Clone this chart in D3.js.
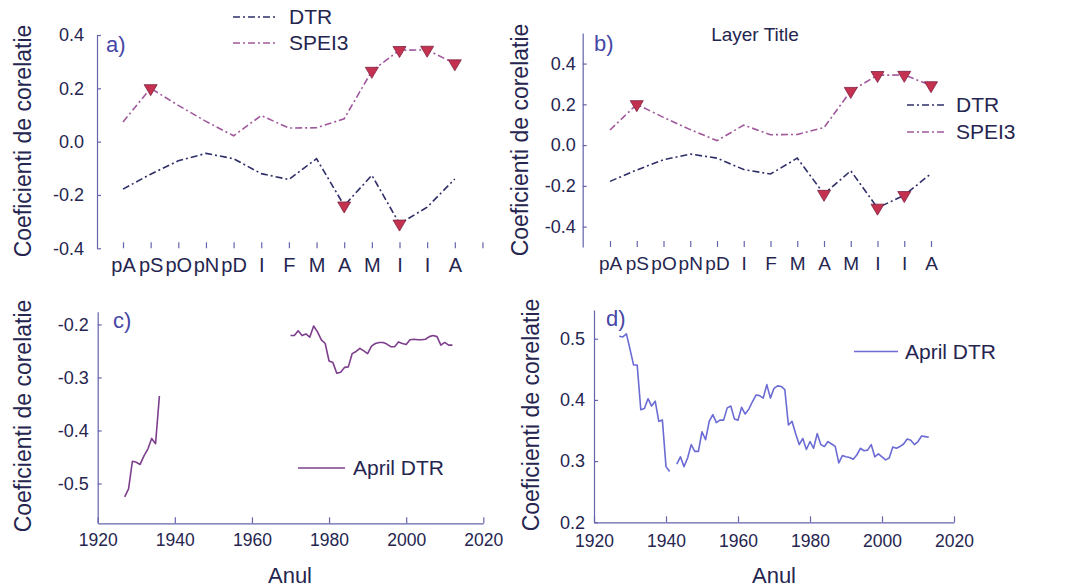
<!DOCTYPE html>
<html><head><meta charset="utf-8">
<script src="https://cdn.jsdelivr.net/npm/d3@7"></script>
<style>
body{margin:0;background:#fff}
svg{display:block}
text{font-family:"Liberation Sans",Arial,Helvetica,sans-serif}
</style>
</head><body>
<svg id="chart" width="1088" height="587"></svg>
<script>
// ---------- DATA ----------
const months = ["pA","pS","pO","pN","pD","I","F","M","A","M","I","I","A"];
const dtr   = [-0.178,-0.122,-0.072,-0.044,-0.064,-0.12,-0.142,-0.064,-0.24,-0.126,-0.308,-0.246,-0.14];
const spei3 = [0.074,0.2,0.136,0.076,0.022,0.098,0.051,0.052,0.086,0.265,0.343,0.344,0.293];
const sigDtrA   = [8,10];
const sigDtrB   = [8,10,11];
const sigSpeiA  = [1,9,10,11,12];
const sigSpeiB  = [1,9,10,11,12];
const yTicksA = [-0.4,-0.2,0.0,0.2,0.4];
const yTicksB = [-0.4,-0.2,0.0,0.2,0.4];

const yearTicks = [1920,1940,1960,1980,2000,2020];
const yTicksC = [-0.5,-0.4,-0.3,-0.2];
const yTicksD = [0.2,0.3,0.4,0.5];

// panel c: April DTR (two segments)
const c1Start = 1927;
const c1Values = [-0.525,-0.51,-0.458,-0.46,-0.464,-0.448,-0.435,-0.415,-0.425,-0.335];
const c2Start = 1970;
const c2Values = [-0.221,-0.221,-0.212,-0.221,-0.218,-0.224,-0.203,-0.214,-0.229,-0.236,
                  -0.269,-0.272,-0.292,-0.29,-0.281,-0.28,-0.255,-0.251,-0.245,-0.25,
                  -0.255,-0.241,-0.236,-0.234,-0.234,-0.237,-0.242,-0.242,-0.233,-0.236,
                  -0.238,-0.229,-0.228,-0.229,-0.229,-0.228,-0.223,-0.221,-0.223,-0.239,
                  -0.234,-0.239,-0.239];

// panel d: April DTR (two segments)
const d1Start = 1927;
const d1Values = [0.504,0.503,0.508,0.483,0.457,0.457,0.384,0.386,0.402,0.39,0.398,0.365,0.367,0.291,0.283];
const d2Start = 1943;
const d2Values = [0.295,0.307,0.291,0.305,0.327,0.316,0.316,0.348,0.335,0.365,
                  0.376,0.363,0.367,0.367,0.387,0.39,0.369,0.367,0.388,0.377,
                  0.385,0.397,0.408,0.407,0.403,0.425,0.403,0.419,0.423,0.422,
                  0.417,0.359,0.365,0.345,0.327,0.337,0.319,0.332,0.321,0.345,
                  0.327,0.324,0.332,0.328,0.324,0.297,0.309,0.307,0.306,0.303,
                  0.31,0.321,0.317,0.318,0.327,0.307,0.312,0.307,0.302,0.305,
                  0.323,0.321,0.324,0.328,0.336,0.334,0.327,0.332,0.341,0.34,0.339];

// ---------- STYLE ----------
const textColor = "#25254f";
const axisColor = "#6464ae";
const letterColor = "#4646a6";
const dtrColor = "#2e2e68";
const speiColor = "#a0589c";
const markFill = "#c4324f";
const markStroke = "#7c2343";
const cColor = "#7d3f8c";
const dColor = "#6b6bd4";
const dashDot = "7,3,2,3";

const svg = d3.select("#chart");
const fmt1 = v => v.toFixed(1);

function styleAxis(g, fs){
  g.selectAll(".domain").attr("stroke", axisColor).attr("stroke-width",1.2);
  g.selectAll(".tick line").attr("stroke", axisColor).attr("stroke-width",1.2);
  g.selectAll(".tick text").attr("fill", textColor).style("font-size", fs+"px")
    .style("font-family","Liberation Sans, Arial, sans-serif");
}
function yLabel(x, y, txt){
  svg.append("text").attr("transform",`translate(${x},${y}) rotate(-90)`)
    .attr("text-anchor","middle").attr("dominant-baseline","central")
    .attr("fill", textColor).style("font-size","23px").text(txt);
}
function txt(x, y, s, size, color, anchor){
  svg.append("text").attr("x",x).attr("y",y).attr("fill",color||textColor)
    .attr("text-anchor",anchor||"start").style("font-size",size+"px").text(s);
}
function tri(g, cx, cy){
  const w = 6.5, h = 11;
  g.append("path")
    .attr("d", `M${cx-w},${cy-h/3} L${cx+w},${cy-h/3} L${cx},${cy+2*h/3} Z`)
    .attr("fill", markFill).attr("stroke", markStroke).attr("stroke-width",0.8);
}

// ---------- PANELS a & b ----------
function monthPanel(cfg){
  const x = d3.scaleLinear().domain([0, cfg.nTicks-1]).range([cfg.x0, cfg.x0 + cfg.step*(cfg.nTicks-1)]);
  const y = d3.scaleLinear().domain(cfg.yDomain).range([cfg.yBottom, cfg.yTop]);
  const g = svg.append("g");
  // y axis
  const ya = g.append("g").attr("transform",`translate(${cfg.axisX},0)`)
    .call(d3.axisLeft(y).tickValues(cfg.yTicks).tickFormat(fmt1).tickSize(-4).tickSizeOuter(0).tickPadding(cfg.yPad));
  styleAxis(ya, 18);
  // x ticks (no axis line)
  const xa = g.append("g").attr("transform",`translate(0,${cfg.xAxisY})`)
    .call(d3.axisBottom(x).tickValues(d3.range(cfg.nTicks)).tickFormat(i => months[i] || "")
      .tickSize(-6).tickSizeOuter(0).tickPadding(10));
  xa.select(".domain").remove();
  styleAxis(xa, cfg.xFont);

  const line = d3.line().x((d,i)=>x(i)).y(d=>y(d));
  g.append("path").datum(spei3).attr("d",line).attr("fill","none")
    .attr("stroke",speiColor).attr("stroke-width",1.6).attr("stroke-dasharray",dashDot);
  g.append("path").datum(dtr).attr("d",line).attr("fill","none")
    .attr("stroke",dtrColor).attr("stroke-width",1.6).attr("stroke-dasharray",dashDot);
  cfg.sigSpei.forEach(i => tri(g, x(i), y(spei3[i])));
  cfg.sigDtr.forEach(i => tri(g, x(i), y(dtr[i])));

  // legend
  const L = cfg.legend;
  g.append("line").attr("x1",L.x1).attr("x2",L.x2).attr("y1",L.y1).attr("y2",L.y1)
    .attr("stroke",dtrColor).attr("stroke-width",1.6).attr("stroke-dasharray",dashDot);
  g.append("line").attr("x1",L.x1).attr("x2",L.x2).attr("y1",L.y2).attr("y2",L.y2)
    .attr("stroke",speiColor).attr("stroke-width",1.6).attr("stroke-dasharray",dashDot);
  txt(L.tx, L.y1+7, "DTR", 21);
  txt(L.tx, L.y2+7, "SPEI3", 21);
}

monthPanel({
  axisX: 97, x0: 123, step: 27.65, nTicks: 14, xFont: 20,
  yDomain: [-0.4, 0.4], yTop: 35, yBottom: 248.3, yTicks: yTicksA, yPad: 13,
  xAxisY: 248.3, sigDtr: sigDtrA, sigSpei: sigSpeiA,
  legend: {x1: 233, x2: 278, y1: 17, y2: 43, tx: 289}
});
monthPanel({
  axisX: 582.7, x0: 610, step: 26.75, nTicks: 13, xFont: 19,
  yDomain: [-0.5, 0.55], yTop: 33, yBottom: 247, yTicks: yTicksB, yPad: 7,
  xAxisY: 247, sigDtr: sigDtrB, sigSpei: sigSpeiB,
  legend: {x1: 907, x2: 947, y1: 105, y2: 132, tx: 956}
});

txt(106, 52, "a)", 22, letterColor);
txt(594, 51, "b)", 22, letterColor);
txt(755, 41, "Layer Title", 19, textColor, "middle");
yLabel(23, 141, "Coeficienti de corelatie");
yLabel(520, 140, "Coeficienti de corelatie");

// ---------- PANELS c & d ----------
function yearPanel(cfg){
  const x = d3.scaleLinear().domain([1920, 2020]).range([cfg.xLeft, cfg.xRight]);
  const y = d3.scaleLinear().domain(cfg.yDomain).range([cfg.yBottom, cfg.yTop]);
  const g = svg.append("g");
  const xa = g.append("g").attr("transform",`translate(0,${cfg.yBottom})`)
    .call(d3.axisBottom(x).tickValues(yearTicks).tickFormat(d3.format("d"))
      .tickSize(-6).tickSizeOuter(0).tickPadding(cfg.xPad));
  styleAxis(xa, 17.5);
  const ya = g.append("g").attr("transform",`translate(${cfg.xLeft},0)`)
    .call(d3.axisLeft(y).tickValues(cfg.yTicks).tickFormat(fmt1).tickSize(-4).tickSizeOuter(0).tickPadding(cfg.yPad));
  styleAxis(ya, 18);
  const line = d3.line().x(d=>x(d[0])).y(d=>y(d[1]));
  cfg.segments.forEach(seg => {
    const pts = seg.values.map((v,i)=>[seg.start+i, v]);
    g.append("path").datum(pts).attr("d",line).attr("fill","none")
      .attr("stroke",cfg.color).attr("stroke-width",1.6).attr("stroke-linejoin","round");
  });
  const L = cfg.legend;
  g.append("line").attr("x1",L.x1).attr("x2",L.x2).attr("y1",L.y).attr("y2",L.y)
    .attr("stroke",cfg.color).attr("stroke-width",1.4);
  txt(L.tx, L.y+7, "April DTR", 21);
}

yearPanel({
  xLeft: 97.7, xRight: 483.3, yDomain: [-0.575, -0.176], yTop: 311.7, yBottom: 523.3,
  yTicks: yTicksC, yPad: 9, xPad: 10, color: cColor,
  segments: [{start: c1Start, values: c1Values}, {start: c2Start, values: c2Values}],
  legend: {x1: 298, x2: 345, y: 468, tx: 353}
});
yearPanel({
  xLeft: 594, xRight: 954, yDomain: [0.2, 0.547], yTop: 310, yBottom: 522.3,
  yTicks: yTicksD, yPad: 9, xPad: 12, color: dColor,
  segments: [{start: d1Start, values: d1Values}, {start: d2Start, values: d2Values}],
  legend: {x1: 854, x2: 898, y: 351.5, tx: 905}
});

txt(113, 328, "c)", 22, letterColor);
txt(606, 326, "d)", 22, letterColor);
yLabel(23, 416, "Coeficienti de corelatie");
yLabel(531, 415, "Coeficienti de corelatie");
txt(290, 583, "Anul", 22, textColor, "middle");
txt(774, 583, "Anul", 22, textColor, "middle");
</script>
</body></html>
